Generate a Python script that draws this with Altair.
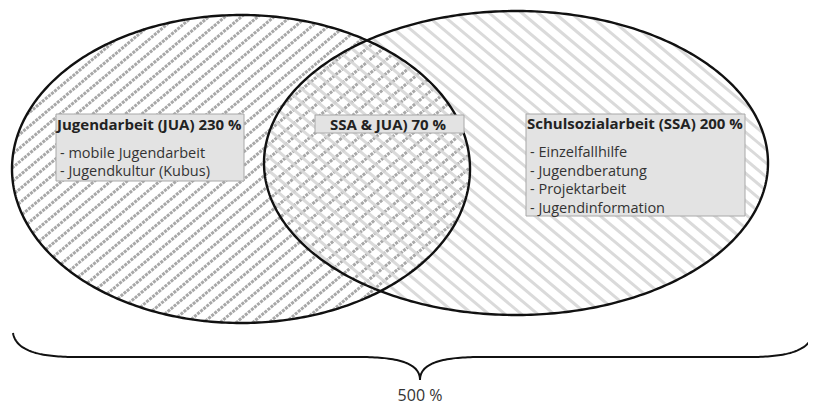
import altair as alt
import numpy as np
import pandas as pd

# ---- data (image pixel coordinates) ----
ellipse_names = ["JUA", "SSA"]
ellipse_cx = [241, 516]
ellipse_cy = [169, 163]
ellipse_rx = [229, 252]
ellipse_ry = [154, 152]

box_names = ["JUA", "BOTH", "SSA"]
box_x1 = [56, 315, 526]
box_x2 = [244, 464, 745]
box_y1 = [114, 115, 114]
box_y2 = [181, 133, 216]

title_texts = ["Jugendarbeit (JUA) 230 %", "SSA & JUA) 70 %", "Schulsozialarbeit (SSA) 200 %"]
title_x = [57, 388, 527]
title_y = [130, 130, 129]
title_align = ["left", "center", "left"]

item_texts = ["- mobile Jugendarbeit", "- Jugendkultur (Kubus)",
              "- Einzelfallhilfe", "- Jugendberatung", "- Projektarbeit", "- Jugendinformation"]
item_x = [60, 60, 530, 530, 530, 530]
item_y = [158, 176, 157, 175.5, 194, 212.5]

total_text = ["500 %"]
total_x = [420]
total_y = [396]

# brace geometry
brace_left_x = 13
brace_right_x = 813
brace_top_y = 333
brace_bar_y = 357
brace_tip = (420, 380)

# ---- geometry helpers ----
def ellipse_outline(name, cx, cy, a, b, n=400):
    phi = np.linspace(0, 2 * np.pi, n)
    return pd.DataFrame({"name": name, "i": np.arange(n),
                         "x": cx + a * np.cos(phi), "y": cy + b * np.sin(phi)})

def ellipse_area(name, cx, cy, a, b, n=300):
    phi = np.linspace(0, np.pi, n)
    x = cx - a * np.cos(phi)
    h = b * np.sin(phi)
    return pd.DataFrame({"name": name, "i": np.arange(n), "x": x, "yt": cy - h, "yb": cy + h})

def hatch(cx, cy, a, b, theta_deg, spacing, up):
    th = np.radians(theta_deg)
    dx, dy = np.cos(th), (-np.sin(th) if up else np.sin(th))
    nx, ny = -dy, dx
    c0 = nx * cx + ny * cy
    half = np.sqrt((a * nx) ** 2 + (b * ny) ** 2)
    ks = np.arange(np.ceil((c0 - half) / spacing), np.floor((c0 + half) / spacing) + 1)
    rows = []
    for k in ks:
        c = k * spacing
        ux, uy = (c - c0) * nx, (c - c0) * ny
        A = (dx / a) ** 2 + (dy / b) ** 2
        B = 2 * (ux * dx / a ** 2 + uy * dy / b ** 2)
        C = (ux / a) ** 2 + (uy / b) ** 2 - 1
        disc = B * B - 4 * A * C
        if disc <= 0:
            continue
        t1 = (-B - np.sqrt(disc)) / (2 * A)
        t2 = (-B + np.sqrt(disc)) / (2 * A)
        rows.append({"x": cx + ux + t1 * dx, "y": cy + uy + t1 * dy,
                     "x2": cx + ux + t2 * dx, "y2": cy + uy + t2 * dy})
    return pd.DataFrame(rows)

def cubic(p0, p1, p2, p3, n=40):
    t = np.linspace(0, 1, n)[:, None]
    p0, p1, p2, p3 = map(np.array, (p0, p1, p2, p3))
    return ((1 - t) ** 3) * p0 + 3 * ((1 - t) ** 2) * t * p1 + 3 * (1 - t) * t * t * p2 + (t ** 3) * p3

def brace_half(end_x, sgn):
    tx, ty = brace_tip
    ey = brace_top_y
    by = brace_bar_y
    a = cubic((end_x, ey), (end_x + sgn * 3, ey + 19), (end_x + sgn * 30, by), (end_x + sgn * 62, by))
    b = cubic((end_x + sgn * 62, by), (tx - sgn * 61, by), (tx - sgn * 61, by), (tx - sgn * 61, by), n=2)
    c = cubic((tx - sgn * 61, by), (tx - sgn * 25, by), (tx, ty - 18), (tx, ty))
    return np.vstack([a, b, c])

lh = brace_half(brace_left_x, 1)
rh = brace_half(brace_right_x, -1)[::-1]
brace_pts = np.vstack([lh, rh])
brace_df = pd.DataFrame({"i": np.arange(len(brace_pts)), "x": brace_pts[:, 0], "y": brace_pts[:, 1]})

# ---- frames ----
areaL = ellipse_area("JUA", ellipse_cx[0], ellipse_cy[0], ellipse_rx[0], ellipse_ry[0])
areaR = ellipse_area("SSA", ellipse_cx[1], ellipse_cy[1], ellipse_rx[1], ellipse_ry[1])
hatchL = hatch(ellipse_cx[0], ellipse_cy[0], ellipse_rx[0], ellipse_ry[0], 40, 10.5, True)
hatchR = hatch(ellipse_cx[1], ellipse_cy[1], ellipse_rx[1], ellipse_ry[1], 40, 10.5, False)
outlines = pd.concat([ellipse_outline(n, cx, cy, a, b) for n, cx, cy, a, b in
                      zip(ellipse_names, ellipse_cx, ellipse_cy, ellipse_rx, ellipse_ry)])
boxes = pd.DataFrame({"name": box_names, "x": box_x1, "x2": box_x2, "y": box_y1, "y2": box_y2})
titles = pd.DataFrame({"t": title_texts, "x": title_x, "y": title_y, "al": title_align})
items = pd.DataFrame({"t": item_texts, "x": item_x, "y": item_y})
total = pd.DataFrame({"t": total_text, "x": total_x, "y": total_y})

X = alt.Scale(domain=[8, 808], nice=False, zero=False)
Y = alt.Scale(domain=[8, 405], nice=False, zero=False, reverse=True)

def xe(f="x"):
    return alt.X(f"{f}:Q", scale=X, axis=None)

def ye(f="y"):
    return alt.Y(f"{f}:Q", scale=Y, axis=None)

fillL = alt.Chart(areaL).mark_area(color="#f4f4f4").encode(
    x=xe(), y=ye("yt"), y2="yb:Q", order="i:Q")
stripesL = alt.Chart(hatchL).mark_rule(color="#a8a8a8", strokeWidth=3, strokeDash=[3, 1]).encode(
    x=xe(), y=ye(), x2="x2:Q", y2="y2:Q")
fillR = alt.Chart(areaR).mark_area(color="#f2f2f2", opacity=0.55).encode(
    x=xe(), y=ye("yt"), y2="yb:Q", order="i:Q")
stripesR = alt.Chart(hatchR).mark_rule(color="#d6d6d6", strokeWidth=3, opacity=0.9).encode(
    x=xe(), y=ye(), x2="x2:Q", y2="y2:Q")
lines = alt.Chart(outlines).mark_line(color="#111111", strokeWidth=2.4).encode(
    x=xe(), y=ye(), order="i:Q", detail="name:N")
rects = alt.Chart(boxes).mark_rect(fill="#e3e3e3", stroke="#a8a8a8", strokeWidth=1).encode(
    x=xe(), x2="x2:Q", y=ye(), y2="y2:Q")
tL = alt.Chart(titles[titles.al == "left"]).mark_text(
    font="Open Sans", fontSize=15, fontWeight="bold", color="#222222", align="left",
    baseline="alphabetic").encode(x=xe(), y=ye(), text="t:N")
tC = alt.Chart(titles[titles.al == "center"]).mark_text(
    font="Open Sans", fontSize=15, fontWeight="bold", color="#222222", align="center",
    baseline="alphabetic").encode(x=xe(), y=ye(), text="t:N")
tI = alt.Chart(items).mark_text(
    font="Open Sans", fontSize=14.5, color="#333333", align="left",
    baseline="alphabetic").encode(x=xe(), y=ye(), text="t:N")
brace = alt.Chart(brace_df).mark_line(color="#111111", strokeWidth=2, clip=True).encode(
    x=xe(), y=ye(), order="i:Q")
tT = alt.Chart(total).mark_text(
    font="Open Sans", fontSize=16, color="#333333", align="center",
    baseline="middle").encode(x=xe(), y=ye(), text="t:N")

chart = alt.layer(fillL, stripesL, fillR, stripesR, lines, rects, tL, tC, tI, brace, tT).properties(
    width=800, height=397, padding=0, background="white",
    autosize=alt.AutoSizeParams(type="none")
).configure_view(stroke=None)

chart.save("out.html", embed_options={"renderer": "svg", "actions": False})
